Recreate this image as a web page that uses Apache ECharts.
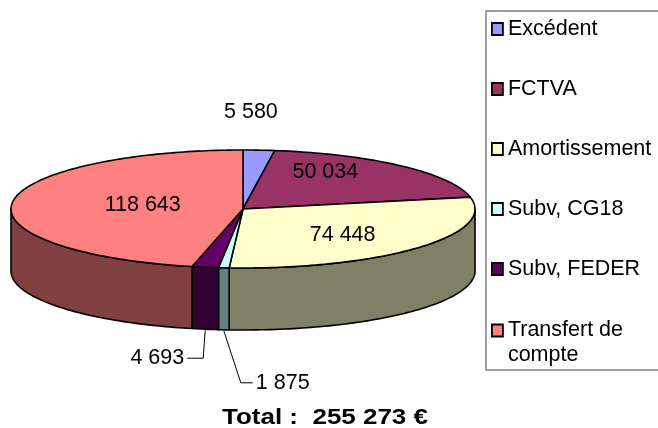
<!DOCTYPE html>
<html>
<head>
<meta charset="utf-8">
<script src="https://cdn.jsdelivr.net/npm/echarts@6/dist/echarts.min.js"></script>
<style>
  html, body { margin: 0; padding: 0; background: #fff; }
  #main { width: 658px; height: 428px; }
</style>
</head>
<body>
<div id="main"></div>
<script>
  // données
  var categories = ['Excédent', 'FCTVA', 'Amortissement', 'Subv, CG18', 'Subv, FEDER', 'Transfert de compte'];
  var values = [5580, 50034, 74448, 1875, 4693, 118643];

  // couleurs dessus / côté
  var topColors = ['#9999FF', '#993366', '#FFFFCC', '#CCFFFF', '#660066', '#FF8080'];
  var sideColors = ['#4d4d80', '#4d1a33', '#808066', '#668080', '#330033', '#804040'];

  var FONT = '"Liberation Sans", Arial, sans-serif';
  // géométrie du camembert 3D
  var CX = 243, CY = 209, RX = 232, RY = 59, DEPTH = 62;
  // décalage des étiquettes intérieures
  var labelShift = { 1: [3, -5], 2: [12, -3], 5: [15, 1] };
  // étiquettes sorties (petites parts)
  var callouts = {
    0: { dx: -8, dy: -38 },
    3: { bx: 17, by: 52, ex: 12 },
    4: { bx: -2, by: 28, ex: -16 }
  };

  var total = values.reduce(function (a, b) { return a + b }, 0);

  function fmt(v) {
    return String(v).replace(/\B(?=(\d{3})+(?!\d))/g, ' ');
  }

  function pt(a, dy) {
    return [CX + RX * Math.sin(a), CY - RY * Math.cos(a) + dy];
  }

  function arc(a0, a1, dy) {
    var n = Math.max(2, Math.ceil(Math.abs(a1 - a0) / 0.02));
    var pts = [];
    for (var k = 0; k <= n; k++) {
      pts.push(pt(a0 + (a1 - a0) * k / n, dy));
    }
    return pts;
  }

  function renderSlice(params, api) {
    var i = params.seriesIndex;
    var start = api.value(0) / total * Math.PI * 2;
    var end = (api.value(0) + api.value(1)) / total * Math.PI * 2;
    var mid = (start + end) / 2;
    var children = [];

    // face avant (côté)
    var s = Math.max(start, Math.PI / 2), e = Math.min(end, Math.PI * 1.5);
    if (e > s) {
      children.push({
        type: 'polygon',
        shape: { points: arc(s, e, 0).concat(arc(e, s, DEPTH)) },
        style: { fill: sideColors[i], stroke: '#000', lineWidth: 1.6, lineJoin: 'round' }
      });
    }
    // dessus
    children.push({
      type: 'polygon',
      shape: { points: [[CX, CY]].concat(arc(start, end, 0)) },
      style: { fill: topColors[i], stroke: '#000', lineWidth: 1.6, lineJoin: 'round' }
    });

    var txt = fmt(api.value(1));
    var textStyle = { text: txt, fontSize: 21.5, fontFamily: FONT, fill: '#000', verticalAlign: 'middle' };
    var c = callouts[i];
    if (!c) {
      var sh = labelShift[i] || [0, 0];
      textStyle.x = CX + RX * Math.sin(mid) * 0.5 + sh[0];
      textStyle.y = CY - RY * Math.cos(mid) * 0.75 + sh[1];
      textStyle.align = 'center';
      children.push({ type: 'text', style: textStyle });
    } else if (c.dy !== undefined) {
      var p0 = pt(mid, 0);
      textStyle.x = p0[0] + c.dx;
      textStyle.y = p0[1] + c.dy;
      textStyle.align = 'center';
      children.push({ type: 'text', style: textStyle });
    } else {
      var p = pt(mid, DEPTH + 1);
      var b = [p[0] + c.bx, p[1] + c.by];
      var q = [b[0] + c.ex, b[1]];
      children.push({
        type: 'polyline',
        shape: { points: [p, b, q] },
        style: { stroke: '#000', lineWidth: 1, fill: null }
      });
      textStyle.x = q[0] + (c.ex > 0 ? 3 : -3);
      textStyle.y = q[1];
      textStyle.align = c.ex > 0 ? 'left' : 'right';
      children.push({ type: 'text', style: textStyle });
    }
    return { type: 'group', children: children };
  }

  var series = [];
  var cum = 0;
  for (var i = 0; i < values.length; i++) {
    series.push({
      name: categories[i],
      type: 'custom',
      coordinateSystem: 'none',
      renderItem: renderSlice,
      itemStyle: { color: topColors[i], borderColor: '#000', borderWidth: 1.5 },
      data: [[cum, values[i]]],
      silent: true
    });
    cum += values[i];
  }

  var chart = echarts.init(document.getElementById('main'));
  chart.setOption({
    backgroundColor: '#fff',
    animation: false,
    legend: {
      orient: 'vertical',
      left: 491,
      top: 17,
      padding: 0,
      icon: 'rect',
      itemWidth: 11,
      itemHeight: 12,
      itemGap: 36,
      selectedMode: false,
      itemStyle: { borderColor: '#000', borderWidth: 1.8 },
      textStyle: {
        fontSize: 21.5, fontFamily: FONT, color: '#000', lineHeight: 24,
        rich: {
          l1: { fontSize: 21.5, fontFamily: FONT, color: '#000', lineHeight: 26, height: 25, verticalAlign: 'bottom' },
          l2: { fontSize: 21.5, fontFamily: FONT, color: '#000', lineHeight: 1, height: 25, verticalAlign: 'top' }
        }
      },
      formatter: function (name) {
        // "Transfert de compte" sur deux lignes, la première alignée sur le carré
        if (name === 'Transfert de compte') {
          return '{l1|Transfert de}\n{l2|compte}';
        }
        return name;
      },
      data: categories
    },
    graphic: [
      {
        type: 'rect',
        shape: { x: 486, y: 11, width: 180, height: 359 },
        style: { fill: null, stroke: '#7f7f7f', lineWidth: 1.5 },
        z: -1
      },
      {
        type: 'text',
        x: 325,
        y: 418,
        scaleX: 1.18,
        style: {
          text: 'Total :  ' + fmt(total) + ' €',
          align: 'center',
          verticalAlign: 'middle',
          fontSize: 22,
          fontWeight: 'bold',
          fontFamily: FONT,
          fill: '#000'
        }
      }
    ],
    series: series
  });
</script>
</body>
</html>
